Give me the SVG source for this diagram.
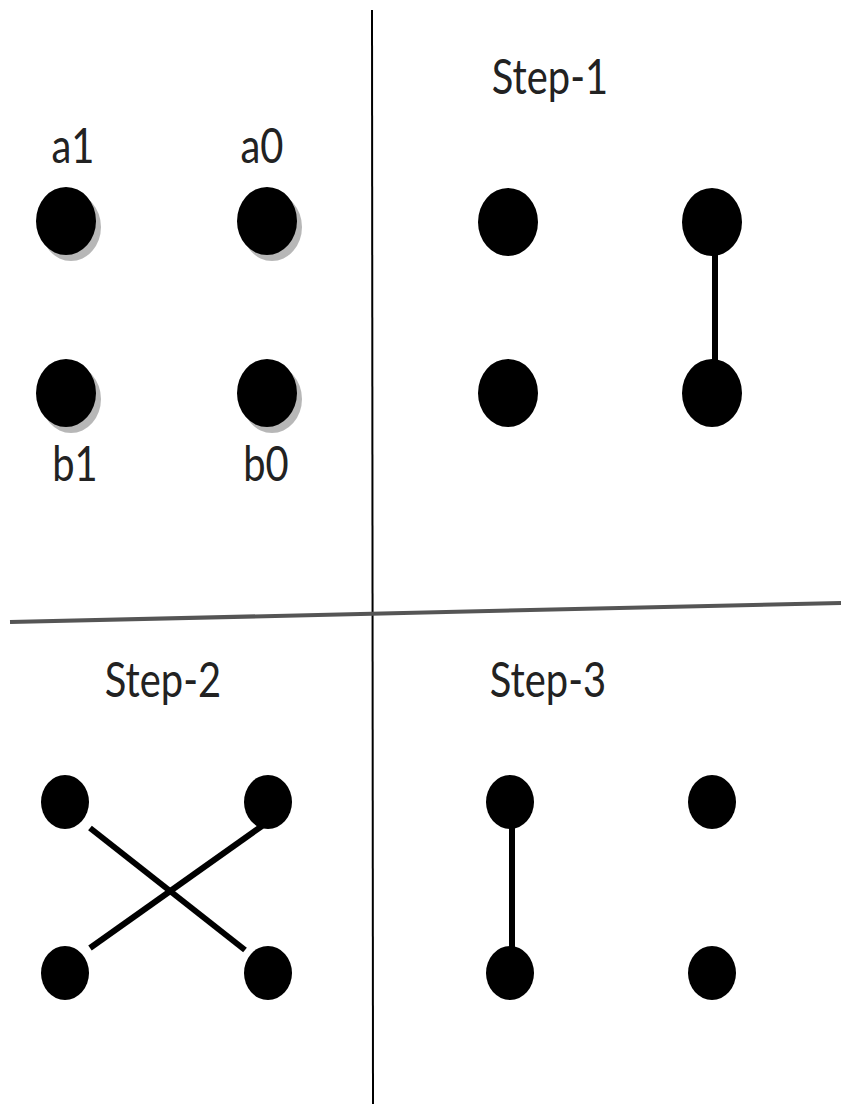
<svg xmlns="http://www.w3.org/2000/svg" width="841" height="1104" viewBox="0 0 841 1104">
<defs>
<style>
.lbl{font-family:Lato,"Open Sans","Liberation Sans",sans-serif;font-size:42px;fill:#222;text-anchor:middle}
.dot{fill:#000}
.shadow{fill:#999;opacity:0.7}
.edge{stroke:#000;stroke-width:6;fill:none}
.div{stroke:#000;stroke-width:2;fill:none}
.hdiv{stroke:#555;stroke-width:4;fill:none}
</style>
</defs>
<rect width="841" height="1104" fill="#fff"/>
<g id="dividers">
<line class="div" x1="372" y1="10" x2="373" y2="1104"/>
<line class="hdiv" x1="10" y1="622" x2="841" y2="603"/>
</g>
<g id="labels">
<text class="lbl" transform="translate(73,163) scale(0.95,1.15)">a1</text>
<text class="lbl" transform="translate(262,163) scale(0.95,1.15)">a0</text>
<text class="lbl" transform="translate(75,481) scale(0.95,1.15)">b1</text>
<text class="lbl" transform="translate(266,481) scale(0.95,1.15)">b0</text>
<text class="lbl" transform="translate(550,94) scale(0.95,1.15)">Step-1</text>
<text class="lbl" transform="translate(163,697) scale(0.95,1.15)">Step-2</text>
<text class="lbl" transform="translate(548,697) scale(0.95,1.15)">Step-3</text>
</g>
<g id="connectors">
<line class="edge" x1="715" y1="222" x2="715" y2="393"/>
<line class="edge" x1="90" y1="828" x2="245" y2="950"/>
<line class="edge" x1="90" y1="948" x2="262" y2="826"/>
<line class="edge" x1="512" y1="802" x2="512" y2="973"/>
</g>
<g id="panel0">
<g id="a1"><ellipse class="shadow" cx="71" cy="227" rx="30" ry="34"/><ellipse class="dot" cx="66" cy="221" rx="30" ry="34"/></g>
<g id="a0"><ellipse class="shadow" cx="272" cy="227" rx="30" ry="34"/><ellipse class="dot" cx="267" cy="221" rx="30" ry="34"/></g>
<g id="b1"><ellipse class="shadow" cx="71" cy="399" rx="30" ry="34"/><ellipse class="dot" cx="66" cy="393" rx="30" ry="34"/></g>
<g id="b0"><ellipse class="shadow" cx="272" cy="399" rx="30" ry="34"/><ellipse class="dot" cx="267" cy="393" rx="30" ry="34"/></g>
</g>
<g id="panel1">
<ellipse id="s1a1" class="dot" cx="508" cy="222" rx="30" ry="34"/>
<ellipse id="s1a0" class="dot" cx="712" cy="222" rx="30" ry="34"/>
<ellipse id="s1b1" class="dot" cx="508" cy="393" rx="30" ry="34"/>
<ellipse id="s1b0" class="dot" cx="712" cy="393" rx="30" ry="34"/>
</g>
<g id="panel2">
<ellipse id="s2a1" class="dot" cx="65" cy="802" rx="24" ry="27"/>
<ellipse id="s2a0" class="dot" cx="268" cy="802" rx="24" ry="27"/>
<ellipse id="s2b1" class="dot" cx="65" cy="973" rx="24" ry="27"/>
<ellipse id="s2b0" class="dot" cx="268" cy="973" rx="24" ry="27"/>
</g>
<g id="panel3">
<ellipse id="s3a1" class="dot" cx="510" cy="802" rx="24" ry="27"/>
<ellipse id="s3a0" class="dot" cx="712" cy="802" rx="24" ry="27"/>
<ellipse id="s3b1" class="dot" cx="510" cy="973" rx="24" ry="27"/>
<ellipse id="s3b0" class="dot" cx="712" cy="973" rx="24" ry="27"/>
</g>
</svg>
